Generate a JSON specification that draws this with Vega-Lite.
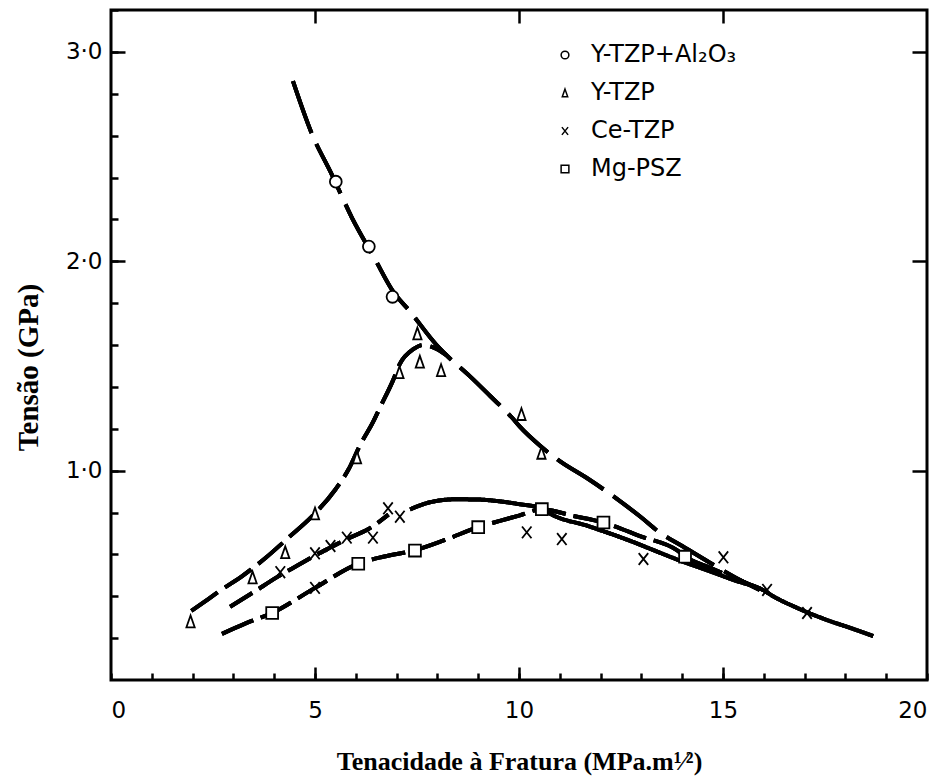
{
  "$schema": "https://vega.github.io/schema/vega-lite/v6.json",
  "width": 816,
  "height": 670,
  "autosize": "none",
  "padding": {"left": 111, "top": 10, "right": 20, "bottom": 96},
  "background": "white",
  "config": {
    "view": {"stroke": "black", "strokeWidth": 3},
    "axis": {"grid": false, "domain": false, "tickColor": "black", "tickWidth": 2.5, "labelColor": "black", "titleColor": "black", "labelFont": "DejaVu Sans", "labelFontSize": 23, "titleFont": "Liberation Serif", "titleFontWeight": "bold", "titleFontSize": 26}
  },
  "datasets": {
    "curves": [
      {"curve": "c1", "x": 4.46, "y": 2.86}, {"curve": "c1", "x": 4.92, "y": 2.61}, {"curve": "c1", "x": 5.41, "y": 2.415}, {"curve": "c1", "x": 5.9, "y": 2.21}, {"curve": "c1", "x": 6.47, "y": 2.01}, {"curve": "c1", "x": 6.9, "y": 1.86}, {"curve": "c1", "x": 7.33, "y": 1.76}, {"curve": "c1", "x": 7.98, "y": 1.6}, {"curve": "c1", "x": 8.23, "y": 1.55}, {"curve": "c1", "x": 8.8, "y": 1.45}, {"curve": "c1", "x": 9.3, "y": 1.355}, {"curve": "c1", "x": 9.82, "y": 1.255}, {"curve": "c1", "x": 10.02, "y": 1.21}, {"curve": "c1", "x": 10.51, "y": 1.12}, {"curve": "c1", "x": 11.0, "y": 1.045}, {"curve": "c1", "x": 11.7, "y": 0.96}, {"curve": "c1", "x": 12.4, "y": 0.865}, {"curve": "c1", "x": 13.0, "y": 0.776}, {"curve": "c1", "x": 13.41, "y": 0.71}, {"curve": "c1", "x": 14.0, "y": 0.64}, {"curve": "c1", "x": 14.68, "y": 0.56}, {"curve": "c1", "x": 15.3, "y": 0.49}, {"curve": "c1", "x": 15.9, "y": 0.43},
      {"curve": "c2", "x": 1.97, "y": 0.33}, {"curve": "c2", "x": 2.19, "y": 0.36}, {"curve": "c2", "x": 2.7, "y": 0.43}, {"curve": "c2", "x": 3.24, "y": 0.5}, {"curve": "c2", "x": 3.8, "y": 0.585}, {"curve": "c2", "x": 4.35, "y": 0.68}, {"curve": "c2", "x": 4.92, "y": 0.78}, {"curve": "c2", "x": 5.5, "y": 0.91}, {"curve": "c2", "x": 5.82, "y": 1.005}, {"curve": "c2", "x": 6.1, "y": 1.12}, {"curve": "c2", "x": 6.43, "y": 1.235}, {"curve": "c2", "x": 6.59, "y": 1.3}, {"curve": "c2", "x": 6.91, "y": 1.43}, {"curve": "c2", "x": 7.08, "y": 1.51}, {"curve": "c2", "x": 7.41, "y": 1.58}, {"curve": "c2", "x": 7.65, "y": 1.6}, {"curve": "c2", "x": 7.94, "y": 1.585}, {"curve": "c2", "x": 8.23, "y": 1.55},
      {"curve": "c3", "x": 2.92, "y": 0.35}, {"curve": "c3", "x": 3.5, "y": 0.42}, {"curve": "c3", "x": 4.06, "y": 0.49}, {"curve": "c3", "x": 4.6, "y": 0.55}, {"curve": "c3", "x": 4.96, "y": 0.59}, {"curve": "c3", "x": 5.4, "y": 0.635}, {"curve": "c3", "x": 5.8, "y": 0.675}, {"curve": "c3", "x": 6.3, "y": 0.72}, {"curve": "c3", "x": 6.8, "y": 0.79},
      {"curve": "c4", "x": 7.33, "y": 0.815}, {"curve": "c4", "x": 7.8, "y": 0.848}, {"curve": "c4", "x": 8.43, "y": 0.863}, {"curve": "c4", "x": 9.0, "y": 0.862}, {"curve": "c4", "x": 9.45, "y": 0.855}, {"curve": "c4", "x": 10.0, "y": 0.84}, {"curve": "c4", "x": 10.56, "y": 0.82}, {"curve": "c4", "x": 10.76, "y": 0.795}, {"curve": "c4", "x": 11.7, "y": 0.735}, {"curve": "c4", "x": 12.72, "y": 0.665}, {"curve": "c4", "x": 13.3, "y": 0.62}, {"curve": "c4", "x": 13.95, "y": 0.57}, {"curve": "c4", "x": 14.6, "y": 0.525}, {"curve": "c4", "x": 15.3, "y": 0.475}, {"curve": "c4", "x": 15.98, "y": 0.43}, {"curve": "c4", "x": 16.23, "y": 0.4}, {"curve": "c4", "x": 16.81, "y": 0.345}, {"curve": "c4", "x": 17.5, "y": 0.29}, {"curve": "c4", "x": 18.1, "y": 0.25}, {"curve": "c4", "x": 18.68, "y": 0.21},
      {"curve": "c5", "x": 2.72, "y": 0.22}, {"curve": "c5", "x": 3.3, "y": 0.27}, {"curve": "c5", "x": 3.95, "y": 0.32}, {"curve": "c5", "x": 5.0, "y": 0.44}, {"curve": "c5", "x": 6.05, "y": 0.555}, {"curve": "c5", "x": 6.7, "y": 0.59}, {"curve": "c5", "x": 7.45, "y": 0.62}, {"curve": "c5", "x": 8.2, "y": 0.67}, {"curve": "c5", "x": 9.0, "y": 0.73}, {"curve": "c5", "x": 9.53, "y": 0.76}, {"curve": "c5", "x": 10.0, "y": 0.785}, {"curve": "c5", "x": 10.56, "y": 0.816}, {"curve": "c5", "x": 11.3, "y": 0.785}, {"curve": "c5", "x": 12.07, "y": 0.752}, {"curve": "c5", "x": 13.0, "y": 0.685}, {"curve": "c5", "x": 13.87, "y": 0.62}, {"curve": "c5", "x": 14.07, "y": 0.59}, {"curve": "c5", "x": 14.7, "y": 0.535}, {"curve": "c5", "x": 15.3, "y": 0.485}, {"curve": "c5", "x": 15.98, "y": 0.43}
    ],
    "points": [
      {"series": "Y-TZP+Al₂O₃", "x": 5.51, "y": 2.38}, {"series": "Y-TZP+Al₂O₃", "x": 6.32, "y": 2.07}, {"series": "Y-TZP+Al₂O₃", "x": 6.9, "y": 1.83},
      {"series": "Y-TZP", "x": 1.95, "y": 0.28}, {"series": "Y-TZP", "x": 3.47, "y": 0.49}, {"series": "Y-TZP", "x": 4.27, "y": 0.61}, {"series": "Y-TZP", "x": 5.0, "y": 0.795}, {"series": "Y-TZP", "x": 6.03, "y": 1.063}, {"series": "Y-TZP", "x": 7.07, "y": 1.47}, {"series": "Y-TZP", "x": 7.51, "y": 1.655}, {"series": "Y-TZP", "x": 7.57, "y": 1.52}, {"series": "Y-TZP", "x": 8.09, "y": 1.48}, {"series": "Y-TZP", "x": 10.06, "y": 1.27}, {"series": "Y-TZP", "x": 10.55, "y": 1.085},
      {"series": "Ce-TZP", "x": 4.15, "y": 0.515}, {"series": "Ce-TZP", "x": 5.0, "y": 0.605}, {"series": "Ce-TZP", "x": 5.38, "y": 0.64}, {"series": "Ce-TZP", "x": 5.78, "y": 0.68}, {"series": "Ce-TZP", "x": 6.42, "y": 0.68}, {"series": "Ce-TZP", "x": 6.79, "y": 0.82}, {"series": "Ce-TZP", "x": 7.08, "y": 0.78}, {"series": "Ce-TZP", "x": 5.0, "y": 0.44}, {"series": "Ce-TZP", "x": 10.19, "y": 0.705}, {"series": "Ce-TZP", "x": 11.05, "y": 0.673}, {"series": "Ce-TZP", "x": 13.05, "y": 0.578}, {"series": "Ce-TZP", "x": 15.01, "y": 0.586}, {"series": "Ce-TZP", "x": 16.08, "y": 0.43}, {"series": "Ce-TZP", "x": 17.06, "y": 0.32},
      {"series": "Mg-PSZ", "x": 3.95, "y": 0.32}, {"series": "Mg-PSZ", "x": 6.06, "y": 0.555}, {"series": "Mg-PSZ", "x": 7.45, "y": 0.618}, {"series": "Mg-PSZ", "x": 9.0, "y": 0.73}, {"series": "Mg-PSZ", "x": 10.56, "y": 0.816}, {"series": "Mg-PSZ", "x": 12.07, "y": 0.752}, {"series": "Mg-PSZ", "x": 14.07, "y": 0.589}
    ]
  },
  "resolve": {"axis": {"x": "independent", "y": "independent"}},
  "layer": [
    {
      "data": {"name": "curves"},
      "mark": {"type": "line", "interpolate": "monotone", "color": "black", "strokeWidth": 4, "strokeCap": "butt"},
      "encoding": {
        "x": {"field": "x", "type": "quantitative", "scale": {"domain": [0, 20], "nice": false, "zero": false}, "axis": {"orient": "bottom", "values": [0,1,2,3,4,5,6,7,8,9,10,11,12,13,14,15,16,17,18,19,20], "tickSize": -7, "labels": false, "title": null}},
        "y": {"field": "y", "type": "quantitative", "scale": {"domain": [0, 3.2], "nice": false, "zero": false}, "axis": {"orient": "left", "values": [0.2,0.4,0.6,0.8,1,1.2,1.4,1.6,1.8,2,2.2,2.4,2.6,2.8,3,3.2], "tickSize": -7, "labels": false, "title": null}},
        "strokeDash": {"field": "curve", "type": "nominal", "scale": {"domain": ["c1","c2","c3","c4","c5"], "range": [[55,12],[32,9],[26,8],[1,0],[34,8]]}, "legend": null}
      }
    },
    {
      "data": {"name": "curves"},
      "mark": {"type": "line", "interpolate": "monotone", "color": "black", "strokeWidth": 4, "strokeCap": "butt"},
      "encoding": {
        "x": {"field": "x", "type": "quantitative", "scale": {"domain": [0, 20], "nice": false, "zero": false}, "axis": {"orient": "bottom", "values": [5,10,15], "tickSize": -13, "labels": false, "title": null}},
        "y": {"field": "y", "type": "quantitative", "scale": {"domain": [0, 3.2], "nice": false, "zero": false}, "axis": {"orient": "left", "values": [1,2,3], "tickSize": -14, "labels": false, "title": null}},
        "strokeDash": {"field": "curve", "type": "nominal", "scale": {"domain": ["c1","c2","c3","c4","c5"], "range": [[55,12],[32,9],[26,8],[1,0],[34,8]]}, "legend": null}
      }
    },
    {
      "data": {"name": "curves"},
      "mark": {"type": "line", "interpolate": "monotone", "color": "black", "strokeWidth": 4, "strokeCap": "butt"},
      "encoding": {
        "x": {"field": "x", "type": "quantitative", "scale": {"domain": [0, 20], "nice": false, "zero": false}, "axis": {"orient": "top", "values": [5,10,15], "tickSize": -13, "labels": false, "title": null}},
        "y": {"field": "y", "type": "quantitative", "scale": {"domain": [0, 3.2], "nice": false, "zero": false}, "axis": {"orient": "right", "values": [1,2,3], "tickSize": -15, "labels": false, "title": null}},
        "strokeDash": {"field": "curve", "type": "nominal", "scale": {"domain": ["c1","c2","c3","c4","c5"], "range": [[55,12],[32,9],[26,8],[1,0],[34,8]]}, "legend": null}
      }
    },
    {
      "data": {"name": "points"},
      "mark": {"type": "point", "filled": false, "fill": "white", "fillOpacity": 1, "strokeWidth": 1.8, "opacity": 1, "size": 140},
      "encoding": {
        "x": {"field": "x", "type": "quantitative", "scale": {"domain": [0, 20], "nice": false, "zero": false}, "axis": {"orient": "bottom", "values": [0,5,10,15,20], "ticks": false, "labelPadding": 19, "title": "Tenacidade à Fratura (MPa.m¹⁄²)", "titlePadding": 26}},
        "y": {"field": "y", "type": "quantitative", "scale": {"domain": [0, 3.2], "nice": false, "zero": false}, "axis": {"orient": "left", "values": [1,2,3], "ticks": false, "labelPadding": 9, "labelExpr": "replace(format(datum.value, '.1f'), '.', '·')", "title": "Tensão (GPa)", "titleFontSize": 29, "titlePadding": 22, "titleY": 357}},
        "color": {"field": "series", "type": "nominal", "scale": {"domain": ["Y-TZP+Al₂O₃", "Y-TZP", "Ce-TZP", "Mg-PSZ"], "range": ["black", "black", "black", "black"]}, "legend": {"orient": "none", "legendX": 442, "legendY": 33, "title": null, "labelFont": "DejaVu Sans", "labelFontSize": 24, "labelColor": "black", "symbolSize": 60, "symbolStrokeWidth": 1.5, "labelOffset": 14, "rowPadding": 14}},
        "shape": {"field": "series", "type": "nominal", "scale": {"domain": ["Y-TZP+Al₂O₃", "Y-TZP", "Ce-TZP", "Mg-PSZ"], "range": ["circle", "M0,-1L0.7,1L-0.7,1Z", "M-0.8,-1L0.8,1M-0.8,1L0.8,-1", "square"]}, "legend": {"orient": "none", "legendX": 442, "legendY": 33, "title": null, "labelFont": "DejaVu Sans", "labelFontSize": 24, "labelColor": "black", "symbolSize": 60, "symbolStrokeWidth": 1.5, "labelOffset": 14, "rowPadding": 14}}
      }
    }
  ]
}
